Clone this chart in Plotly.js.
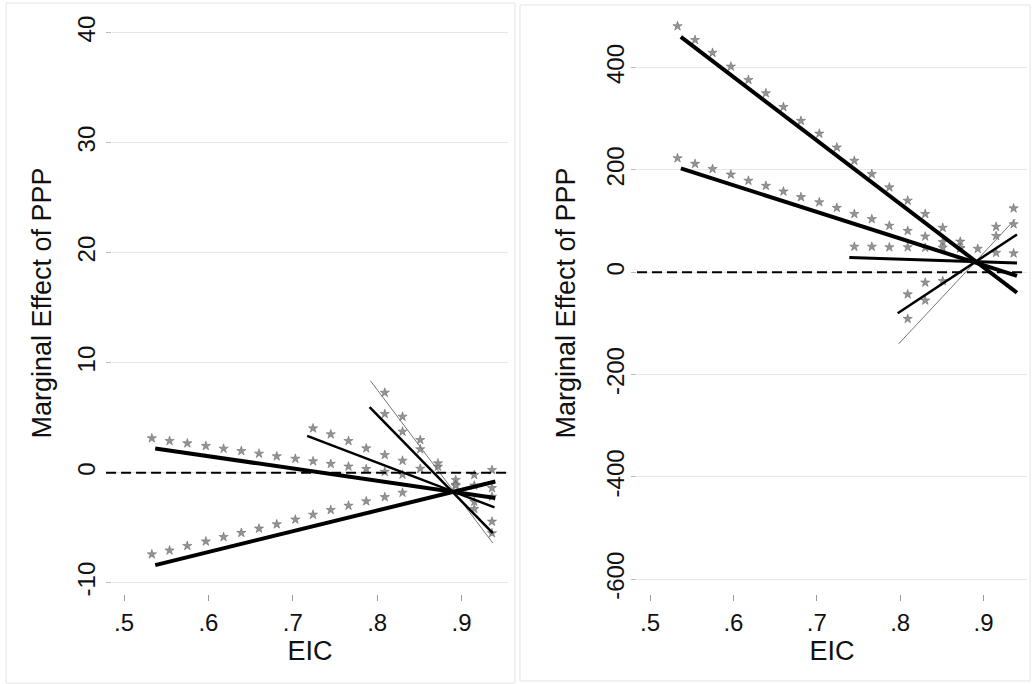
<!DOCTYPE html>
<html>
<head>
<meta charset="utf-8">
<script src="https://cdn.plot.ly/plotly-3.0.1.min.js"></script>
<style>
  html, body { margin: 0; padding: 0; background: #ffffff; }
  #chart { width: 1034px; height: 684px; }
</style>
</head>
<body>
<div id="chart"></div>
<script>
// ---------- tick labels ----------
const xTickVals = [0.5, 0.6, 0.7, 0.8, 0.9];
const xTickText = ['.5', '.6', '.7', '.8', '.9'];
const yTickValsLeft = [-10, 0, 10, 20, 30, 40];
const yTickTextLeft = ['-10', '0', '10', '20', '30', '40'];
const yTickValsRight = [-600, -400, -200, 0, 200, 400];
const yTickTextRight = ['-600', '-400', '-200', '0', '200', '400'];
const xTitle = 'EIC';
const yTitle = 'Marginal Effect of PPP';

// ---------- left panel: marginal-effect lines (EIC, effect) ----------
const leftL1x = [0.537, 0.940], leftL1y = [2.2, -2.3];
const leftL2x = [0.537, 0.940], leftL2y = [-8.4, -0.8];
const leftL3x = [0.717, 0.939], leftL3y = [3.35, -3.15];
const leftL4x = [0.791, 0.937], leftL4y = [5.95, -5.5];
const leftL5x = [0.792, 0.937], leftL5y = [8.35, -6.4];

// ---------- right panel: marginal-effect lines ----------
const rightL1x = [0.537, 0.940], rightL1y = [460, -40];
const rightL2x = [0.537, 0.940], rightL2y = [203, -7];
const rightL3x = [0.739, 0.940], rightL3y = [29, 18];
const rightL4x = [0.797, 0.940], rightL4y = [-80, 74];
const rightL5x = [0.798, 0.938], rightL5y = [-140, 104];

// ---------- significance stars (common EIC grid) ----------
const starX = [0.533, 0.554, 0.575, 0.597, 0.618, 0.639, 0.660, 0.681, 0.703, 0.724,
               0.745, 0.766, 0.787, 0.809, 0.830, 0.851, 0.872, 0.893, 0.915, 0.936];
const N = null;
const leftS1 = [3.13, 2.88, 2.67, 2.43, 2.18, 1.97, 1.73, 1.49, 1.27, 1.04, 0.80, 0.56, 0.33, 0.08, -0.18, N, N, N, -1.17, -1.40];
const leftS2 = [-7.42, -7.07, -6.66, -6.25, -5.85, -5.47, -5.08, -4.69, -4.26, -3.82, -3.39, -3.00, -2.60, -2.22, -1.82, N, N, -0.66, -0.21, 0.25];
const leftS3 = [N, N, N, N, N, N, N, N, N, 4.03, 3.49, 2.88, 2.21, 1.61, 1.09, 0.36, N, N, N, -2.18];
const leftS4 = [N, N, N, N, N, N, N, N, N, N, N, N, N, 5.34, 3.73, 2.13, 0.55, -1.10, -2.64, -4.45];
const leftS5 = [N, N, N, N, N, N, N, N, N, N, N, N, N, 7.27, 5.09, 2.97, 0.85, -1.20, -3.30, -5.50];

const rightS1 = [481, 454, 429, 402, 376, 350, 323, 296, 271, 244, 218, 192, 166, 140, 114, 87, 60, N, N, N];
const rightS2 = [223, 212, 202, 191, 179, 169, 158, 147, 137, 126, 114, 104, 91, 81, 70, 59, 47, N, N, N];
const rightS3 = [N, N, N, N, N, N, N, N, N, N, 50, 50, 49, 49, 48, 48, 47, 46, 38, 37];
const rightS4 = [N, N, N, N, N, N, N, N, N, N, N, N, N, -43, -20, N, N, N, 71, 94];
const rightS5 = [N, N, N, N, N, N, N, N, N, N, N, N, N, -91, -55, -17, N, N, 89, 125];

// ---------- helpers ----------
function lineTrace(x, y, w, color, xa, ya) {
  return { type: 'scatter', mode: 'lines', x: x, y: y, xaxis: xa, yaxis: ya,
           line: { color: color, width: w }, hoverinfo: 'skip', showlegend: false };
}
function starTrace(y, xa, ya) {
  return { type: 'scatter', mode: 'markers', x: starX, y: y, xaxis: xa, yaxis: ya,
           marker: { symbol: 'star', size: 7, color: '#949494', line: { color: '#606060', width: 0.5 } },
           hoverinfo: 'skip', showlegend: false };
}

const traces = [
  starTrace(leftS1, 'x', 'y'), starTrace(leftS2, 'x', 'y'), starTrace(leftS3, 'x', 'y'),
  starTrace(leftS4, 'x', 'y'), starTrace(leftS5, 'x', 'y'),
  lineTrace(leftL5x, leftL5y, 1, '#777777', 'x', 'y'),
  lineTrace(leftL4x, leftL4y, 2.5, '#000000', 'x', 'y'),
  lineTrace(leftL3x, leftL3y, 2.5, '#000000', 'x', 'y'),
  lineTrace(leftL1x, leftL1y, 4, '#000000', 'x', 'y'),
  lineTrace(leftL2x, leftL2y, 4, '#000000', 'x', 'y'),

  starTrace(rightS1, 'x2', 'y2'), starTrace(rightS2, 'x2', 'y2'), starTrace(rightS3, 'x2', 'y2'),
  starTrace(rightS4, 'x2', 'y2'), starTrace(rightS5, 'x2', 'y2'),
  lineTrace(rightL5x, rightL5y, 1, '#777777', 'x2', 'y2'),
  lineTrace(rightL4x, rightL4y, 2.5, '#000000', 'x2', 'y2'),
  lineTrace(rightL3x, rightL3y, 3, '#000000', 'x2', 'y2'),
  lineTrace(rightL1x, rightL1y, 4, '#000000', 'x2', 'y2'),
  lineTrace(rightL2x, rightL2y, 4, '#000000', 'x2', 'y2')
];

const W = 1034, H = 684;
const fontFam = '"Liberation Sans", Arial, Helvetica, sans-serif';
const tickFont = { family: fontFam, size: 24, color: '#111' };
const titleFont = { family: fontFam, size: 27, color: '#111' };

function xAxisCfg(domain, range, anchor) {
  return {
    domain: domain, range: range, anchor: anchor,
    tickmode: 'array', tickvals: xTickVals, ticktext: xTickText,
    ticks: 'outside', ticklen: 6, tickwidth: 1, tickcolor: '#999',
    showgrid: false, zeroline: false, showline: false,
    tickfont: tickFont, ticklabelstandoff: 1,
    title: { text: xTitle, font: titleFont, standoff: 2 },
    automargin: false, fixedrange: true
  };
}
function yAxisCfg(domain, range, anchor, tickvals, ticktext, labelStandoff, titleStandoff) {
  return {
    domain: domain, range: range, anchor: anchor,
    tickmode: 'array', tickvals: tickvals, ticktext: ticktext,
    ticks: 'outside', ticklen: 5, tickwidth: 1, tickcolor: '#bbb',
    showgrid: true, gridcolor: '#e6e6e6', gridwidth: 1,
    zeroline: false, showline: false, tickangle: -90,
    tickfont: tickFont, ticklabelstandoff: labelStandoff,
    title: { text: yTitle, font: titleFont, standoff: titleStandoff },
    automargin: false, fixedrange: true
  };
}

const yDom = [1 - 594 / H, 1 - 12 / H];
const layout = {
  width: W, height: H,
  margin: { l: 0, r: 0, t: 0, b: 0, pad: 0 },
  paper_bgcolor: '#ffffff', plot_bgcolor: '#ffffff',
  showlegend: false,
  xaxis: xAxisCfg([112 / W, 508 / W], [0.48578, 0.95498], 'y'),
  yaxis: yAxisCfg(yDom, [-11.03, 41.88], 'x', yTickValsLeft, yTickTextLeft, 1, 13),
  xaxis2: xAxisCfg([637 / W, 1027 / W], [0.48441, 0.95204], 'y2'),
  yaxis2: yAxisCfg(yDom, [-628.7, 508.7], 'x2', yTickValsRight, yTickTextRight, -3, 18),
  shapes: [
    { type: 'rect', xref: 'paper', yref: 'paper', x0: 6 / W, x1: 515 / W, y0: 1 / H, y1: 1 - 3 / H,
      line: { color: '#e4e4e4', width: 1 }, fillcolor: 'rgba(0,0,0,0)', layer: 'below' },
    { type: 'rect', xref: 'paper', yref: 'paper', x0: 520 / W, x1: 1030 / W, y0: 3 / H, y1: 1 - 5 / H,
      line: { color: '#e4e4e4', width: 1 }, fillcolor: 'rgba(0,0,0,0)', layer: 'below' },
    { type: 'line', xref: 'x domain', yref: 'y', x0: -0.015, x1: 1, y0: 0, y1: 0,
      line: { color: '#000000', width: 2, dash: '10px,5px' }, layer: 'above' },
    { type: 'line', xref: 'x2 domain', yref: 'y2', x0: 0, x1: 1, y0: 0, y1: 0,
      line: { color: '#000000', width: 2, dash: '10px,5px' }, layer: 'above' }
  ]
};

Plotly.newPlot('chart', traces, layout, { staticPlot: true, displayModeBar: false });
</script>
</body>
</html>
